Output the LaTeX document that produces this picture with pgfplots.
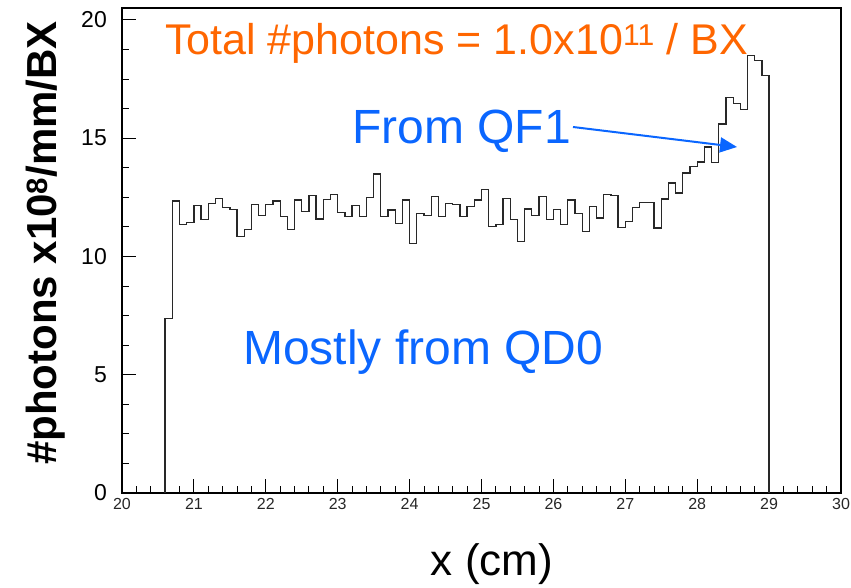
\documentclass[border=0pt]{standalone}
\usepackage{pgfplots}
\pgfplotsset{compat=1.18}
\usepackage{fontspec}
\setmainfont{Liberation Sans}
\usetikzlibrary{arrows.meta}
\definecolor{titleorange}{RGB}{255,102,0}
\definecolor{noteblue}{RGB}{10,102,255}
\definecolor{histline}{RGB}{40,40,40}

\begin{document}
\begin{tikzpicture}
  \useasboundingbox (0,0) rectangle (851bp,588bp);
  \begin{axis}[
      at={(122bp,95bp)}, anchor=south west,
      width=719bp, height=485bp, scale only axis,
      xmin=20, xmax=30, ymin=0, ymax=20.5,
      xtick={20,21,...,30}, ytick={0,5,...,20},
      minor x tick num=4, minor y tick num=3,
      tick align=inside, xtick pos=bottom, ytick pos=left,
      major tick length=14bp, minor tick length=7bp,
      axis line style={line width=1.1bp},
      every tick/.style={black, line width=0.9bp},
      /pgf/number format/assume math mode=true,
      xticklabel style={font=\fontsize{16bp}{16bp}\selectfont, text=black!85, inner sep=0pt, yshift=-5bp},
      yticklabel style={font=\fontsize{23bp}{23bp}\selectfont, inner sep=0pt, xshift=-15bp},
    ]
    \addplot[const plot, histline, line width=1.3bp] coordinates {
      (20.6,0) (20.6,7.38)
      (20.7,12.34) (20.8,11.34) (20.9,11.42) (21.0,12.15) (21.1,11.56)
      (21.2,12.24) (21.3,12.46) (21.4,12.07) (21.5,11.97) (21.6,10.83)
      (21.7,11.14) (21.8,12.20) (21.9,11.73) (22.0,12.20) (22.1,12.34)
      (22.2,11.68) (22.3,11.14) (22.4,12.38) (22.5,11.91) (22.6,12.58)
      (22.7,11.58) (22.8,12.42) (22.9,12.62) (23.0,11.86) (23.1,11.69)
      (23.2,12.15) (23.3,11.69) (23.4,12.49) (23.5,13.48) (23.6,11.69)
      (23.7,11.96) (23.8,11.39) (23.9,12.38) (24.0,10.56) (24.1,11.80)
      (24.2,11.73) (24.3,12.53) (24.4,11.69) (24.5,12.24) (24.6,12.20)
      (24.7,11.69) (24.8,12.11) (24.9,12.38) (25.0,12.83) (25.1,11.27)
      (25.2,11.34) (25.3,12.45) (25.4,11.56) (25.5,10.62) (25.6,12.00)
      (25.7,11.73) (25.8,12.53) (25.9,11.56) (26.0,11.98) (26.1,11.35)
      (26.2,12.38) (26.3,11.82) (26.4,11.04) (26.5,12.11) (26.6,11.62)
      (26.7,12.62) (26.8,12.58) (26.9,11.22) (27.0,11.47) (27.1,12.07)
      (27.2,12.28) (27.3,12.28) (27.4,11.20) (27.5,12.43) (27.6,13.10)
      (27.7,12.68) (27.8,13.52) (27.9,13.79) (28.0,13.99) (28.1,14.63)
      (28.2,13.96) (28.3,15.60) (28.4,16.73) (28.5,16.45) (28.6,16.20)
      (28.7,18.49) (28.8,18.28) (28.9,17.65)
      (29.0,17.65) (29.0,0)
    };
  \end{axis}
  % axis titles
  \node[rotate=90, font=\fontsize{42bp}{42bp}\selectfont\bfseries] at (46bp,345bp)
    {\#photons x10\textsuperscript{8}/mm/BX};
  \node[font=\fontsize{44bp}{44bp}\selectfont] at (492bp,24bp) {x (cm)};
  % annotations
  \node[anchor=base west, inner sep=0pt, text=titleorange,
        font=\fontsize{43bp}{43bp}\selectfont] at (165bp,533bp)
    {Total \#photons = 1.0x10\textsuperscript{11} / BX};
  \node[anchor=base west, inner sep=0pt, text=noteblue,
        font=\fontsize{48bp}{48bp}\selectfont] at (352bp,444bp) {From QF1};
  \node[anchor=base west, inner sep=0pt, text=noteblue,
        font=\fontsize{48bp}{48bp}\selectfont] at (243bp,223bp) {Mostly from QD0};
  \draw[noteblue, line width=2bp, -{Triangle[length=17bp,width=15bp]}]
    (573bp,461bp) -- (737bp,441bp);
\end{tikzpicture}
\end{document}
